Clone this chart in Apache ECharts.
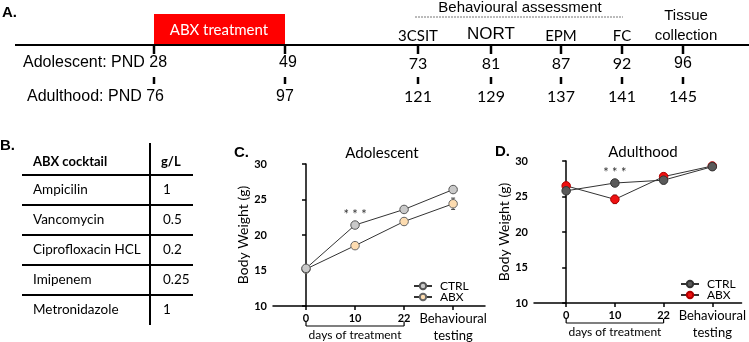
<!DOCTYPE html>
<html lang="en" style="height: 100%">
<head>
<meta charset="utf-8">
<title>ABX study design and body weight</title>
</head>
<body style="height: 100%; margin: 0; background: #fff">
<div id="container" style="width: 749px; height: 342px"></div>
<script type="text/javascript" src="https://cdn.jsdelivr.net/npm/echarts/dist/echarts.min.js"></script>
<script type="text/javascript">

// ---- data ----
var stageLabels = ['', '', '3CSIT', 'NORT', 'EPM', 'FC', 'Tissue\ncollection'];
var adolescentPND = [28, 49, 73, 81, 87, 92, 96];
var adulthoodPND = [76, 97, 121, 129, 137, 141, 145];

var cocktailDrugs = ['Ampicilin', 'Vancomycin', 'Ciprofloxacin HCL', 'Imipenem', 'Metronidazole'];
var cocktailDose = ['1', '0.5', '0.2', '0.25', '1'];

var xCats = ['0', '10', '22', 'Behavioural testing'];
var xIdx = [0, 1, 2, 3];
var adolCtrl = [15.3, 21.4, 23.6, 26.4];
var adolCtrlErr = [0.3, 0.3, 0.3, 0.3];
var adolAbx = [15.2, 18.5, 21.9, 24.4];
var adolAbxErr = [0.3, 0.4, 0.5, 0.8];
var adultCtrl = [25.8, 26.9, 27.3, 29.2];
var adultCtrlErr = [0.4, 0.3, 0.5, 0.3];
var adultAbx = [26.5, 24.6, 27.8, 29.3];
var adultAbxErr = [0.3, 0.6, 0.3, 0.3];

// ---- layout for the schematic (panel A) and table (panel B) ----
var tickX = [154, 285, 418, 491, 561, 622, 683];
var ARIAL = '"Liberation Sans", Arial, sans-serif';
var CAL = 'Lato, "Noto Sans", sans-serif';

var dom = document.getElementById('container');
var myChart = echarts.init(dom, null, { renderer: 'canvas' });

function txt(x, y, s, opt) {
    opt = opt || {};
    return {
        type: 'text', x: x, y: y, silent: true,
        style: {
            text: s, fill: opt.fill || '#000',
            font: (opt.weight || 'normal') + ' ' + (opt.size || 15) + 'px ' + (opt.family || ARIAL),
            textAlign: opt.align || 'left', textVerticalAlign: 'middle'
        }
    };
}
function seg(x1, y1, x2, y2, w, extra) {
    return {
        type: 'line', silent: true,
        shape: { x1: x1, y1: y1, x2: x2, y2: y2 },
        style: Object.assign({ stroke: '#000', lineWidth: w || 2 }, extra || {})
    };
}

var gfx = [];
// panel A
gfx.push(txt(2, 13, 'A.', { weight: 'bold', size: 15 }));
gfx.push({ type: 'rect', shape: { x: 154, y: 14, width: 131, height: 31 }, style: { fill: '#ff0000' }, silent: true });
gfx.push(txt(219, 30, 'ABX treatment', { fill: '#fff', size: 15, family: CAL, align: 'center' }));
gfx.push(seg(15, 45, 749, 45, 2.2));
gfx.push(txt(520, 8, 'Behavioural assessment', { size: 15, align: 'center' }));
gfx.push(seg(415, 17, 623, 17, 1, { stroke: '#777', lineDash: [2, 1] }));
tickX.forEach(function (x, i) {
    gfx.push(seg(x, 45, x, 54, 2.5));
    gfx.push(seg(x, 77, x, 84, 2.5));
    if (i >= 2) {
        var lab = stageLabels[i];
        if (lab.indexOf('\n') >= 0) {
            var parts = lab.split('\n');
            gfx.push(txt(x + 3, 16, parts[0], { size: 15, align: 'center' }));
            gfx.push(txt(x + 3, 36, parts[1], { size: 15, align: 'center' }));
        } else {
            gfx.push(txt(x, i === 3 ? 34 : 36, lab, { size: i === 3 ? 17 : 15, family: i === 3 ? ARIAL : CAL, align: 'center' }));
        }
        gfx.push(txt(x, 64, String(adolescentPND[i]), { size: 16, family: i === 6 ? ARIAL : CAL, align: 'center' }));
        gfx.push(txt(x, 97, String(adulthoodPND[i]), { size: 16, family: CAL, align: 'center' }));
    }
});
gfx.push(txt(23, 63, 'Adolescent: PND ' + adolescentPND[0], { size: 16 }));
gfx.push(txt(288, 63, String(adolescentPND[1]), { size: 16, align: 'center' }));
gfx.push(txt(27, 97, 'Adulthood: PND ' + adulthoodPND[0], { size: 16 }));
gfx.push(txt(285, 97, String(adulthoodPND[1]), { size: 16, align: 'center' }));

// panel B
gfx.push(txt(0, 146, 'B.', { weight: 'bold', size: 15 }));
gfx.push(txt(33, 162, 'ABX cocktail', { weight: 'bold', size: 13, family: CAL }));
gfx.push(txt(161, 162, 'g/L', { weight: 'bold', size: 13, family: CAL }));
gfx.push(seg(150, 143, 150, 325, 2));
cocktailDrugs.forEach(function (d, i) {
    var yLine = 175 + i * 30;
    gfx.push(seg(22, yLine, 193, yLine, 2));
    gfx.push(txt(33, yLine + 15, d, { size: 13.5, family: CAL }));
    gfx.push(txt(163, yLine + 15, cocktailDose[i], { size: 13.5, family: CAL }));
});

// panel letters/titles C, D
gfx.push(txt(234, 153, 'C.', { weight: 'bold', size: 15 }));
gfx.push(txt(495, 152, 'D.', { weight: 'bold', size: 15 }));
gfx.push(txt(382, 153, 'Adolescent', { size: 15, family: CAL, align: 'center' }));
gfx.push(txt(643, 152, 'Adulthood', { size: 15, family: CAL, align: 'center' }));

function errSeries(name, gi, vals, errs) {
    return {
        type: 'custom', name: name, xAxisIndex: gi, yAxisIndex: gi, z: 1, silent: true,
        data: xIdx.map(function (x, i) { return [x, vals[i] - errs[i], vals[i] + errs[i]]; }),
        renderItem: function (params, api) {
            var lo = api.coord([api.value(0), api.value(1)]);
            var hi = api.coord([api.value(0), api.value(2)]);
            var st = { stroke: '#444', lineWidth: 1 };
            return {
                type: 'group', children: [
                    { type: 'line', shape: { x1: lo[0], y1: lo[1], x2: hi[0], y2: hi[1] }, style: st },
                    { type: 'line', shape: { x1: lo[0] - 2, y1: lo[1], x2: lo[0] + 2, y2: lo[1] }, style: st },
                    { type: 'line', shape: { x1: hi[0] - 2, y1: hi[1], x2: hi[0] + 2, y2: hi[1] }, style: st }
                ]
            };
        }
    };
}
function lineSeries(name, gi, vals, fill, border, z, star) {
    return {
        type: 'line', name: name, xAxisIndex: gi, yAxisIndex: gi, z: z,
        symbol: 'circle', symbolSize: 8.5, showSymbol: true,
        lineStyle: { color: '#333', width: 1 },
        itemStyle: { color: fill, borderColor: border, borderWidth: 1 },
        emphasis: { disabled: true },
        data: xIdx.map(function (x, i) {
            var item = { value: [x, vals[i]] };
            if (star && i === 1) {
                item.label = { show: true, position: 'top', distance: -1, formatter: '* * *', color: '#333', fontSize: 13, fontFamily: CAL };
            }
            return item;
        })
    };
}
function xAxis(gi, min, max) {
    return {
        type: 'value', gridIndex: gi, min: min, max: max,
        splitLine: { show: false },
        axisLine: { show: true, lineStyle: { color: '#000', width: 1.5 } },
        axisTick: { show: true, customValues: xIdx, length: 4, lineStyle: { color: '#000', width: 1.5 } },
        axisLabel: {
            customValues: xIdx, margin: 4, color: '#000',
            formatter: function (v) {
                var s = xCats[Math.round(v)];
                if (Math.round(v) === 3) return '{b|' + s.split(' ').join('}\n{b|') + '}';
                return '{n|' + s + '}';
            },
            rich: {
                n: { fontSize: 11, fontWeight: 'bold', fontFamily: CAL, lineHeight: 17, color: '#000' },
                b: { fontSize: 13, fontFamily: CAL, lineHeight: 17, color: '#000' }
            }
        }
    };
}
function yAxis(gi, gap) {
    return {
        type: 'value', gridIndex: gi, min: 10, max: 30, interval: 5,
        splitLine: { show: false },
        axisLine: { show: true, lineStyle: { color: '#000', width: 1.5 } },
        axisTick: { show: true, length: 4, lineStyle: { color: '#000', width: 1.5 } },
        axisLabel: { margin: 6, color: '#000', fontSize: 11, fontWeight: 'bold', fontFamily: CAL },
        name: 'Body Weight (g)', nameLocation: 'middle', nameGap: gap,
        nameTextStyle: { fontSize: 14, fontFamily: CAL, color: '#000' }
    };
}
// one legend per entry so each row sits exactly where the reference has it
function legend(name, left, top, w) {
    return {
        data: [name], orient: 'vertical', left: left, top: top,
        itemWidth: w, itemHeight: 8, padding: 0,
        formatter: function (n) { return n.trim(); },
        textStyle: { fontSize: 12, fontFamily: CAL, color: '#000', padding: [0, 0, 0, 3] }
    };
}

var option = {
    animation: false,
    backgroundColor: '#fff',
    textStyle: { fontFamily: CAL },
    grid: [
        { left: 273, top: 164, width: 212, height: 142 },
        { left: 534, top: 161, width: 211, height: 142 }
    ],
    xAxis: [xAxis(0, -0.673, 3.65), xAxis(1, -0.66, 3.6)],
    yAxis: [yAxis(0, 22), yAxis(1, 18)],
    legend: [
        legend('CTRL', 413, 280, 18),
        legend('ABX', 413, 291, 18),
        legend('CTRL ', 680, 278, 18),
        legend('ABX ', 680, 289, 18)
    ],
    series: [
        errSeries('eC1', 0, adolCtrl, adolCtrlErr),
        errSeries('eC2', 0, adolAbx, adolAbxErr),
        lineSeries('CTRL', 0, adolCtrl, '#c9c9c9', '#555', 4, true),
        lineSeries('ABX', 0, adolAbx, '#fddcb0', '#666', 3, false),
        errSeries('eD1', 1, adultCtrl, adultCtrlErr),
        errSeries('eD2', 1, adultAbx, adultAbxErr),
        lineSeries('CTRL ', 1, adultCtrl, '#5a5a5a', '#333', 4, true),
        lineSeries('ABX ', 1, adultAbx, '#ee1111', '#b00000', 3, false)
    ],
    graphic: gfx
};

myChart.setOption(option);

// "days of treatment" brackets under the first three categories, placed through the axis scales
function bracket(gi) {
    var a = myChart.convertToPixel({ gridIndex: gi }, [xIdx[0], 10]);
    var b = myChart.convertToPixel({ gridIndex: gi }, [xIdx[2], 10]);
    var y = a[1] + 20;
    return [
        seg(a[0], y, b[0], y, 1.2),
        seg(a[0], y - 4, a[0], y, 1.2),
        seg(b[0], y - 4, b[0], y, 1.2),
        txt((a[0] + b[0]) / 2, y + 9, 'days of treatment', { size: 12, family: CAL, align: 'center' })
    ];
}
myChart.setOption({ graphic: gfx.concat(bracket(0), bracket(1)) });

window.addEventListener('resize', myChart.resize);
</script>
</body>
</html>
